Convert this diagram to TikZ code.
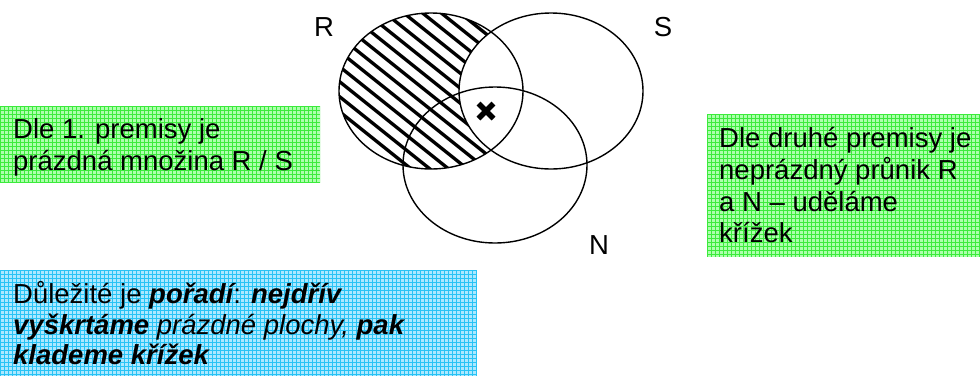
\documentclass[tikz,border=0pt]{standalone}
\usepackage{fontspec}
\setmainfont{Liberation Sans}
\usetikzlibrary{calc}
\definecolor{gfill}{RGB}{172,255,172}
\definecolor{gline}{RGB}{60,235,60}
\definecolor{bfill}{RGB}{172,232,255}
\definecolor{bline}{RGB}{40,195,245}
\tikzset{
  venn/.style={draw=black, line width=1.4pt},
  hatchline/.style={line width=3.3pt},
  txt/.style={anchor=base west, inner sep=0pt, font=\fontsize{27.5}{31.5}\selectfont},
  lbl/.style={anchor=base, inner sep=0pt, font=\fontsize{27.5}{31.5}\selectfont},
}
\begin{document}
\begin{tikzpicture}[x=1pt,y=-1pt]
\useasboundingbox (0,0) rectangle (980,376);
% boxes with grid texture
\fill[gfill] (0,106) rectangle (320,183);
\begin{scope}
\clip (0,106) rectangle (320,183);
\foreach \i in {0,4,...,320} {\draw[gline,line width=0.8pt] (\i,106) -- (\i,183);}
\foreach \j in {106,110,...,183} {\draw[gline,line width=0.8pt] (0,\j) -- (320,\j);}
\end{scope}
\fill[gfill] (707,114) rectangle (980,257);
\begin{scope}
\clip (707,114) rectangle (980,257);
\foreach \i in {707,711,...,980} {\draw[gline,line width=0.8pt] (\i,114) -- (\i,257);}
\foreach \j in {114,118,...,257} {\draw[gline,line width=0.8pt] (707,\j) -- (980,\j);}
\end{scope}
\fill[bfill] (0,270) rectangle (477,376);
\begin{scope}
\clip (0,270) rectangle (477,376);
\foreach \i in {0,4,...,477} {\draw[bline,line width=0.8pt] (\i,270) -- (\i,376);}
\foreach \j in {270,274,...,376} {\draw[bline,line width=0.8pt] (0,\j) -- (477,\j);}
\end{scope}
% hatching of R minus S
\begin{scope}
\clip (431,91) ellipse [x radius=92, y radius=78];
\foreach \k in {-12,...,12} {
  \pgfmathsetmacro{\c}{-280+15*\k}
  \draw[hatchline] (300,{0.8*300+\c}) -- (600,{0.8*600+\c});
}
\end{scope}
\fill[white] (551,91) ellipse [x radius=92, y radius=78];
% ellipses
\draw[venn] (431,91) ellipse [x radius=92, y radius=78];
\draw[venn] (551,91) ellipse [x radius=92, y radius=78];
\draw[venn] (495,165) ellipse [x radius=92, y radius=78];
% cross
\coordinate (xc) at (486,111);
\draw[line width=5.5pt] ($(xc)+(-7.5,-7.5)$) -- ($(xc)+(7.5,7.5)$);
\draw[line width=5.5pt] ($(xc)+(-7.5,7.5)$) -- ($(xc)+(7.5,-7.5)$);
% labels
\node[lbl] (lR) at (324,36) {R};
\node[lbl] (lS) at (663,36) {S};
\node[lbl] (lN) at (599,254) {N};
% left text
\node[txt] (a1) at (13,138) {Dle 1. premisy je};
\node[txt] (a2) at (13,170) {prázdná množina R / S};
% right text
\node[txt] (b1) at (719,147) {Dle druhé premisy je};
\node[txt] (b2) at (719,179) {neprázdný průnik R};
\node[txt] (b3) at (719,211) {a N – uděláme};
\node[txt] (b4) at (719,242) {křížek};
% bottom text
\node[txt] (c1) at (13,303) {Důležité je {\bfseries\itshape pořadí}: {\bfseries\itshape nejdřív}};
\node[txt] (c2) at (13,334) {{\bfseries\itshape vyškrtáme} {\itshape prázdné plochy,} {\bfseries\itshape pak}};
\node[txt] (c3) at (13,364) {{\bfseries\itshape klademe křížek}};
\end{tikzpicture}
\end{document}
